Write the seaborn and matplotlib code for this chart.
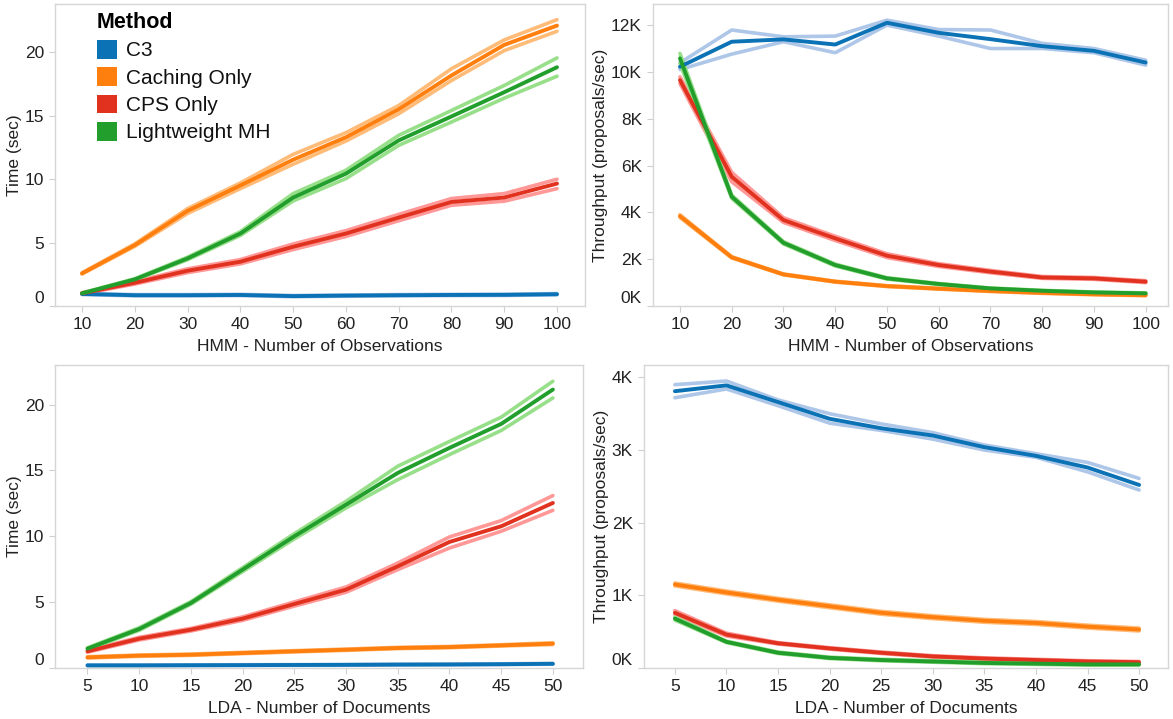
import numpy as np
import pandas as pd
import matplotlib
matplotlib.use('Agg')
import matplotlib.pyplot as plt
import seaborn as sns
from matplotlib.patches import Patch
from matplotlib.ticker import FuncFormatter

# metodos y colores
methods = ['C3', 'Caching Only', 'CPS Only', 'Lightweight MH']
dark = ['#0b72b5', '#ff7f0e', '#e0321f', '#219e2c']
light = ['#aec7e8', '#ffbb78', '#ff9896', '#98df8a']

# HMM - tiempo (sec), x = numero de observaciones
hmm_x = [10, 20, 30, 40, 50, 60, 70, 80, 90, 100]
hmm_time_c3 = [0.95, 0.85, 0.85, 0.87, 0.78, 0.82, 0.85, 0.87, 0.88, 0.93]
hmm_time_c3_lo = [0.9, 0.8, 0.8, 0.82, 0.73, 0.77, 0.8, 0.82, 0.83, 0.88]
hmm_time_c3_hi = [1.0, 0.9, 0.9, 0.92, 0.83, 0.87, 0.9, 0.92, 0.93, 0.98]
hmm_time_cache = [2.57, 4.8, 7.5, 9.5, 11.53, 13.3, 15.5, 18.17, 20.58, 22.1]
hmm_time_cache_lo = [2.52, 4.7, 7.29, 9.25, 11.17, 13.0, 15.15, 17.77, 20.13, 21.65]
hmm_time_cache_hi = [2.62, 4.9, 7.68, 9.7, 11.95, 13.66, 15.8, 18.7, 20.97, 22.57]
hmm_time_cps = [1.0, 1.83, 2.78, 3.49, 4.67, 5.71, 6.97, 8.2, 8.55, 9.65]
hmm_time_cps_lo = [0.95, 1.73, 2.63, 3.32, 4.45, 5.48, 6.72, 7.94, 8.26, 9.25]
hmm_time_cps_hi = [1.05, 1.93, 2.93, 3.66, 4.89, 5.94, 7.22, 8.47, 8.86, 9.99]
hmm_time_mh = [1.0, 2.1, 3.75, 5.71, 8.55, 10.43, 13.05, 14.94, 16.85, 18.82]
hmm_time_mh_lo = [0.97, 2.05, 3.65, 5.56, 8.28, 10.04, 12.66, 14.5, 16.38, 18.11]
hmm_time_mh_hi = [1.03, 2.15, 3.85, 5.86, 8.86, 10.7, 13.45, 15.41, 17.38, 19.55]

# HMM - throughput (miles de propuestas/sec)
hmm_tp_c3 = [10.22, 11.29, 11.39, 11.17, 12.1, 11.67, 11.4, 11.1, 10.9, 10.4]
hmm_tp_c3_lo = [10.1, 10.76, 11.29, 10.82, 12.0, 11.53, 11.0, 11.0, 10.82, 10.29]
hmm_tp_c3_hi = [10.39, 11.79, 11.5, 11.53, 12.21, 11.81, 11.79, 11.22, 11.0, 10.5]
hmm_tp_cache = [3.84, 2.08, 1.35, 1.04, 0.85, 0.74, 0.64, 0.56, 0.5, 0.46]
hmm_tp_cache_lo = [3.78, 2.05, 1.33, 1.02, 0.83, 0.72, 0.62, 0.54, 0.48, 0.44]
hmm_tp_cache_hi = [3.9, 2.11, 1.37, 1.06, 0.87, 0.76, 0.66, 0.58, 0.52, 0.48]
hmm_tp_cps = [9.65, 5.52, 3.67, 2.89, 2.15, 1.75, 1.47, 1.22, 1.18, 1.04]
hmm_tp_cps_lo = [9.51, 5.31, 3.57, 2.8, 2.07, 1.69, 1.42, 1.18, 1.14, 1.0]
hmm_tp_cps_hi = [9.79, 5.71, 3.77, 2.98, 2.23, 1.81, 1.52, 1.26, 1.22, 1.08]
hmm_tp_mh = [10.58, 4.67, 2.7, 1.75, 1.18, 0.94, 0.75, 0.65, 0.58, 0.54]
hmm_tp_mh_lo = [10.36, 4.6, 2.65, 1.71, 1.15, 0.92, 0.73, 0.63, 0.56, 0.52]
hmm_tp_mh_hi = [10.79, 4.74, 2.75, 1.79, 1.21, 0.96, 0.77, 0.67, 0.6, 0.56]

# LDA - tiempo (sec), x = numero de documentos
lda_x = [5, 10, 15, 20, 25, 30, 35, 40, 45, 50]
lda_time_c3 = [0.2, 0.2, 0.21, 0.22, 0.23, 0.24, 0.26, 0.27, 0.29, 0.32]
lda_time_c3_lo = [0.17, 0.17, 0.18, 0.19, 0.2, 0.21, 0.23, 0.24, 0.26, 0.29]
lda_time_c3_hi = [0.23, 0.23, 0.24, 0.25, 0.26, 0.27, 0.29, 0.3, 0.32, 0.35]
lda_time_cache = [0.81, 0.94, 1.01, 1.14, 1.27, 1.39, 1.52, 1.59, 1.72, 1.85]
lda_time_cache_lo = [0.76, 0.89, 0.96, 1.09, 1.22, 1.34, 1.47, 1.54, 1.67, 1.78]
lda_time_cache_hi = [0.86, 0.99, 1.06, 1.19, 1.32, 1.44, 1.57, 1.64, 1.77, 1.92]
lda_time_cps = [1.27, 2.23, 2.91, 3.75, 4.86, 5.95, 7.72, 9.57, 10.76, 12.53]
lda_time_cps_lo = [1.2, 2.13, 2.81, 3.62, 4.7, 5.75, 7.47, 9.11, 10.38, 11.97]
lda_time_cps_hi = [1.34, 2.33, 3.01, 3.88, 5.02, 6.15, 7.97, 9.95, 11.19, 13.09]
lda_time_mh = [1.47, 2.96, 4.94, 7.47, 10.0, 12.4, 14.81, 16.71, 18.53, 21.14]
lda_time_mh_lo = [1.4, 2.86, 4.84, 7.32, 9.8, 12.15, 14.3, 16.2, 18.03, 20.5]
lda_time_mh_hi = [1.54, 3.06, 5.04, 7.62, 10.2, 12.66, 15.32, 17.2, 19.04, 21.77]

# LDA - throughput (miles de propuestas/sec)
lda_tp_c3 = [3.81, 3.89, 3.66, 3.43, 3.3, 3.2, 3.04, 2.92, 2.76, 2.52]
lda_tp_c3_lo = [3.72, 3.84, 3.61, 3.37, 3.27, 3.15, 3.0, 2.9, 2.7, 2.45]
lda_tp_c3_hi = [3.9, 3.95, 3.69, 3.5, 3.36, 3.24, 3.07, 2.95, 2.83, 2.61]
lda_tp_cache = [1.15, 1.04, 0.94, 0.85, 0.76, 0.7, 0.65, 0.62, 0.57, 0.53]
lda_tp_cache_lo = [1.13, 1.02, 0.92, 0.83, 0.74, 0.68, 0.63, 0.6, 0.55, 0.51]
lda_tp_cache_hi = [1.17, 1.06, 0.96, 0.87, 0.78, 0.72, 0.67, 0.64, 0.59, 0.55]
lda_tp_cps = [0.76, 0.46, 0.34, 0.27, 0.21, 0.16, 0.13, 0.11, 0.09, 0.08]
lda_tp_cps_lo = [0.73, 0.44, 0.33, 0.26, 0.2, 0.15, 0.12, 0.1, 0.08, 0.07]
lda_tp_cps_hi = [0.79, 0.48, 0.35, 0.28, 0.22, 0.17, 0.14, 0.12, 0.1, 0.09]
lda_tp_mh = [0.68, 0.36, 0.21, 0.14, 0.11, 0.09, 0.07, 0.06, 0.05, 0.05]
lda_tp_mh_lo = [0.66, 0.35, 0.2, 0.13, 0.1, 0.08, 0.06, 0.05, 0.04, 0.04]
lda_tp_mh_hi = [0.7, 0.37, 0.22, 0.15, 0.12, 0.1, 0.08, 0.07, 0.06, 0.06]


def make_df(x, series):
    # series: lista de (mid, lo, hi) en el orden de methods
    rows = []
    for m, (mid, lo, hi) in zip(methods, series):
        for kind, vals in (('mid', mid), ('lo', lo), ('hi', hi)):
            for xi, v in zip(x, vals):
                rows.append({'x': xi, 'y': v, 'method': m, 'kind': kind})
    return pd.DataFrame(rows)


hmm_time = make_df(hmm_x, [(hmm_time_c3, hmm_time_c3_lo, hmm_time_c3_hi),
                           (hmm_time_cache, hmm_time_cache_lo, hmm_time_cache_hi),
                           (hmm_time_cps, hmm_time_cps_lo, hmm_time_cps_hi),
                           (hmm_time_mh, hmm_time_mh_lo, hmm_time_mh_hi)])
hmm_tp = make_df(hmm_x, [(hmm_tp_c3, hmm_tp_c3_lo, hmm_tp_c3_hi),
                         (hmm_tp_cache, hmm_tp_cache_lo, hmm_tp_cache_hi),
                         (hmm_tp_cps, hmm_tp_cps_lo, hmm_tp_cps_hi),
                         (hmm_tp_mh, hmm_tp_mh_lo, hmm_tp_mh_hi)])
lda_time = make_df(lda_x, [(lda_time_c3, lda_time_c3_lo, lda_time_c3_hi),
                           (lda_time_cache, lda_time_cache_lo, lda_time_cache_hi),
                           (lda_time_cps, lda_time_cps_lo, lda_time_cps_hi),
                           (lda_time_mh, lda_time_mh_lo, lda_time_mh_hi)])
lda_tp = make_df(lda_x, [(lda_tp_c3, lda_tp_c3_lo, lda_tp_c3_hi),
                         (lda_tp_cache, lda_tp_cache_lo, lda_tp_cache_hi),
                         (lda_tp_cps, lda_tp_cps_lo, lda_tp_cps_hi),
                         (lda_tp_mh, lda_tp_mh_lo, lda_tp_mh_hi)])

sns.set_style('white')
plt.rcParams['font.family'] = ['Liberation Sans', 'DejaVu Sans']

fig = plt.figure(figsize=(11.73, 7.19), dpi=100)

# posiciones en fraccion de figura (izq, abajo, ancho, alto)
ax_tl = fig.add_axes([0.0469, 0.5744, 0.4518, 0.42])
ax_tr = fig.add_axes([0.5567, 0.5744, 0.4390, 0.42])
ax_bl = fig.add_axes([0.0469, 0.0709, 0.4500, 0.4214])
ax_br = fig.add_axes([0.5490, 0.0709, 0.4467, 0.4214])

pal_dark = dict(zip(methods, dark))
pal_light = dict(zip(methods, light))

panels = [
    (ax_tl, hmm_time, hmm_x, (4.88, 105.3), (0, 23.8), [0, 5, 10, 15, 20], 'Time (sec)', 'HMM - Number of Observations', False),
    (ax_tr, hmm_tp, hmm_x, (4.79, 104.3), (0, 12.9), [0, 2, 4, 6, 8, 10, 12], 'Throughput (proposals/sec)', 'HMM - Number of Observations', True),
    (ax_bl, lda_time, lda_x, (1.86, 52.9), (0, 23.0), [0, 5, 10, 15, 20], 'Time (sec)', 'LDA - Number of Documents', False),
    (ax_br, lda_tp, lda_x, (2.0, 52.8), (0, 4.17), [0, 1, 2, 3, 4], 'Throughput (proposals/sec)', 'LDA - Number of Documents', True),
]

for ax, df, xs, xlim, ylim, yticks, ylab, xlab, kfmt in panels:
    bounds = df[df['kind'] != 'mid']
    sns.lineplot(data=bounds, x='x', y='y', hue='method', units='kind', estimator=None,
                 palette=pal_light, linewidth=2.6, legend=False, ax=ax, sort=False)
    sns.lineplot(data=df[df['kind'] == 'mid'], x='x', y='y', hue='method', estimator=None,
                 palette=pal_dark, linewidth=2.8, legend=False, ax=ax, sort=False)
    ax.set_xlim(*xlim)
    ax.set_ylim(*ylim)
    ax.set_xticks(xs)
    ax.set_yticks(yticks)
    if kfmt:
        ax.yaxis.set_major_formatter(FuncFormatter(lambda v, p: f'{v:.0f}K'))
    ax.set_xlabel(xlab, fontsize=12.5, color='#222222', labelpad=5)
    ax.set_ylabel(ylab, fontsize=12.5, color='#222222', labelpad=2)
    ax.tick_params(axis='both', which='major', length=4, width=0.8, color='#cfcfcf',
                   labelsize=12.5, labelcolor='#222222', pad=4, bottom=True, left=True)
    for s in ax.spines.values():
        s.set_color('#d6d6d6')
        s.set_linewidth(1.0)
        s.set_visible(True)
    # la etiqueta del cero va un poco arriba, como en el original
    ax.yaxis.get_major_ticks()[0].label1.set_verticalalignment('bottom')

handles = [Patch(facecolor=c, edgecolor='none', label=m) for m, c in zip(methods, dark)]
leg = ax_tl.legend(handles=handles, title='Method', loc='upper left', bbox_to_anchor=(0.055, 1.015),
                   frameon=False, fontsize=15, title_fontsize=15.5, handlelength=1.0,
                   handleheight=1.0, handletextpad=0.4, labelspacing=0.33, borderaxespad=0.2,
                   labelcolor='#111111')
leg.get_title().set_fontweight('bold')
leg.get_title().set_color('#000000')
leg._legend_box.align = 'left'

fig.savefig('out.png', dpi=100)
